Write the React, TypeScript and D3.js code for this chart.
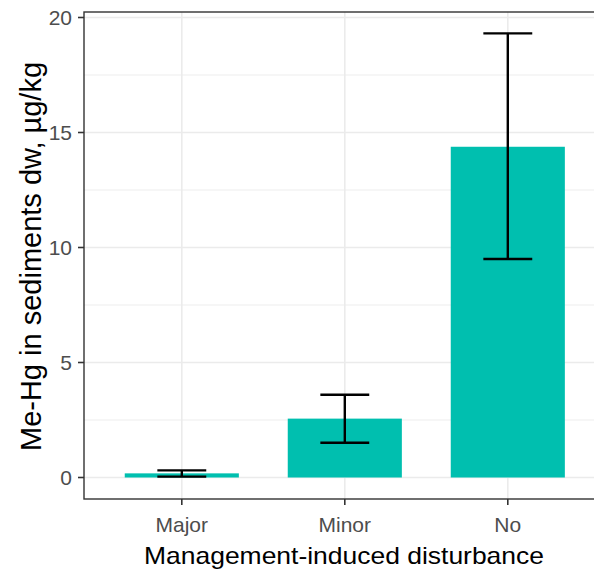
import React from 'react';
import * as d3 from 'd3';

// data
const categories = ['Major', 'Minor', 'No'];
const means = [0.18, 2.56, 14.38];
const errLow = [0.04, 1.51, 9.5];
const errHigh = [0.31, 3.6, 19.31];
const yTicks = [0, 5, 10, 15, 20];
const yMinor = [2.5, 7.5, 12.5, 17.5];

const width = 594;
const height = 570;
const panel = { left: 84, right: 605.6, top: 12, bottom: 499 };

const App = () => {
  const x = d3
    .scaleBand<string>()
    .domain(categories)
    .range([panel.left, panel.right])
    .paddingInner(0.3)
    .paddingOuter(0.25);

  const y = d3.scaleLinear().domain([0, 20]).range([477.5, 17.5]);

  const step = x.step();
  const capW = step * 0.3;
  const barColor = '#00BFAF';

  return (
    <svg
      width={width}
      height={height}
      style={{ position: 'absolute', left: 0, top: 0, background: '#fff' }}
      fontFamily="'Liberation Sans', Arial, sans-serif"
    >
      {/* minor grid */}
      {yMinor.map((t) => (
        <line
          key={'mi' + t}
          x1={panel.left}
          x2={panel.right}
          y1={y(t)}
          y2={y(t)}
          stroke="#EBEBEB"
          strokeWidth={0.9}
        />
      ))}
      {/* major grid */}
      {yTicks.map((t) => (
        <line
          key={'ma' + t}
          x1={panel.left}
          x2={panel.right}
          y1={y(t)}
          y2={y(t)}
          stroke="#EBEBEB"
          strokeWidth={1.6}
        />
      ))}
      {categories.map((c) => (
        <line
          key={'vg' + c}
          x1={x(c)! + x.bandwidth() / 2}
          x2={x(c)! + x.bandwidth() / 2}
          y1={panel.top}
          y2={panel.bottom}
          stroke="#EBEBEB"
          strokeWidth={1.6}
        />
      ))}

      {/* bars */}
      {categories.map((c, i) => (
        <rect
          key={'b' + c}
          x={x(c)}
          y={y(means[i])}
          width={x.bandwidth()}
          height={y(0) - y(means[i])}
          fill={barColor}
        />
      ))}

      {/* error bars */}
      {categories.map((c, i) => {
        const cx = x(c)! + x.bandwidth() / 2;
        return (
          <g key={'e' + c} stroke="#000" strokeWidth={2.4}>
            <line x1={cx} x2={cx} y1={y(errHigh[i])} y2={y(errLow[i])} />
            <line x1={cx - capW / 2} x2={cx + capW / 2} y1={y(errHigh[i])} y2={y(errHigh[i])} />
            <line x1={cx - capW / 2} x2={cx + capW / 2} y1={y(errLow[i])} y2={y(errLow[i])} />
          </g>
        );
      })}

      {/* panel border (left, top, bottom visible) */}
      <rect
        x={panel.left}
        y={panel.top}
        width={panel.right - panel.left}
        height={panel.bottom - panel.top}
        fill="none"
        stroke="#333333"
        strokeWidth={1.4}
      />

      {/* y axis ticks & labels */}
      {yTicks.map((t) => (
        <g key={'yt' + t}>
          <line x1={panel.left - 6} x2={panel.left} y1={y(t)} y2={y(t)} stroke="#333333" strokeWidth={1.6} />
          <text
            x={panel.left - 12}
            y={y(t)}
            dy="0.36em"
            textAnchor="end"
            fontSize={21}
            fill="#4D4D4D"
          >
            {t}
          </text>
        </g>
      ))}

      {/* x axis ticks & labels */}
      {categories.map((c) => {
        const cx = x(c)! + x.bandwidth() / 2;
        return (
          <g key={'xt' + c}>
            <line x1={cx} x2={cx} y1={panel.bottom} y2={panel.bottom + 6} stroke="#333333" strokeWidth={1.6} />
            <text x={cx} y={531.5} textAnchor="middle" fontSize={21} fill="#4D4D4D">
              {c}
            </text>
          </g>
        );
      })}

      {/* axis titles */}
      <text
        x={344}
        y={564}
        textAnchor="middle"
        fontSize={24}
        fill="#000"
        textLength={400}
        lengthAdjust="spacingAndGlyphs"
      >
        Management-induced disturbance
      </text>
      <text
        transform={`translate(41, 256.5) rotate(-90)`}
        textAnchor="middle"
        fontSize={29}
        fill="#000"
      >
        Me-Hg in sediments dw, µg/kg
      </text>
    </svg>
  );
};

export default App;
